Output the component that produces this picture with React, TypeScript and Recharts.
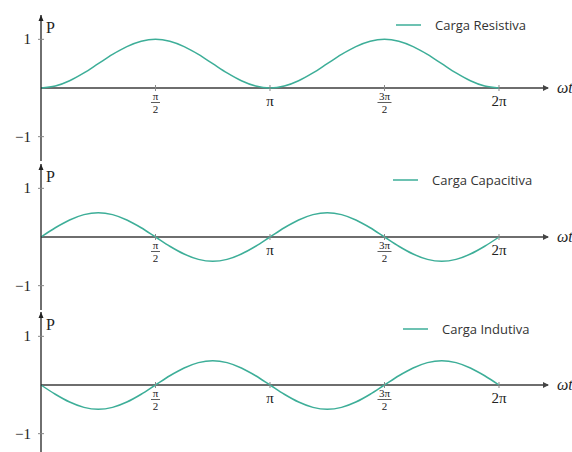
import React from 'react';
import { LineChart, Line, XAxis, YAxis, ReferenceLine, ReferenceDot, Legend } from 'recharts';

// angle in multiples of pi (step pi/16)
const angles = [
  0, 0.0625, 0.125, 0.1875, 0.25, 0.3125, 0.375, 0.4375, 0.5, 0.5625, 0.625, 0.6875, 0.75, 0.8125, 0.875, 0.9375,
  1, 1.0625, 1.125, 1.1875, 1.25, 1.3125, 1.375, 1.4375, 1.5, 1.5625, 1.625, 1.6875, 1.75, 1.8125, 1.875, 1.9375, 2,
];

const resistiva = [
  0, 0.04, 0.15, 0.31, 0.5, 0.69, 0.85, 0.96, 1, 0.96, 0.85, 0.69, 0.5, 0.31, 0.15, 0.04,
  0, 0.04, 0.15, 0.31, 0.5, 0.69, 0.85, 0.96, 1, 0.96, 0.85, 0.69, 0.5, 0.31, 0.15, 0.04, 0,
];

const capacitiva = [
  0, 0.19, 0.35, 0.46, 0.5, 0.46, 0.35, 0.19, 0, -0.19, -0.35, -0.46, -0.5, -0.46, -0.35, -0.19,
  0, 0.19, 0.35, 0.46, 0.5, 0.46, 0.35, 0.19, 0, -0.19, -0.35, -0.46, -0.5, -0.46, -0.35, -0.19, 0,
];

const indutiva = [
  0, -0.19, -0.35, -0.46, -0.5, -0.46, -0.35, -0.19, 0, 0.19, 0.35, 0.46, 0.5, 0.46, 0.35, 0.19,
  0, -0.19, -0.35, -0.46, -0.5, -0.46, -0.35, -0.19, 0, 0.19, 0.35, 0.46, 0.5, 0.46, 0.35, 0.19, 0,
];

const xTicks = [0.5, 1, 1.5, 2];
const xTickLabels = [['π', '2'], ['π'], ['3π', '2'], ['2π']];
const yTicks = [-1, 1];

const X_MAX = 2.214;
const LINE_COLOR = '#3dae98';
const AXIS_COLOR = '#6e6e6e';
const SERIF = '"Liberation Serif", "DejaVu Serif", serif';

const YTick = (props: any) => {
  const { x, y, payload } = props;
  return (
    <g>
      <line x1={x - 3} x2={x + 3} y1={y} y2={y} stroke="#888" strokeWidth={1} />
      <text x={x - 10} y={y + 5} textAnchor="end" fontFamily={SERIF} fontSize={15} fill="#222">
        {payload.value < 0 ? '\u2212' + Math.abs(payload.value) : payload.value}
      </text>
    </g>
  );
};

const XTickMark = (label: string[]) => (props: any) => {
  const { cx, cy } = props;
  const tick = <line x1={cx} x2={cx} y1={cy - 3} y2={cy + 3} stroke="#888" strokeWidth={1} />;
  if (label.length === 2) {
    const w = label[0].length > 1 ? 14 : 9;
    return (
      <g>
        {tick}
        <text x={cx} y={cy + 12} textAnchor="middle" fontFamily={SERIF} fontSize={11} fill="#222">{label[0]}</text>
        <line x1={cx - w / 2} x2={cx + w / 2} y1={cy + 14.5} y2={cy + 14.5} stroke="#333" strokeWidth={0.8} />
        <text x={cx} y={cy + 25} textAnchor="middle" fontFamily={SERIF} fontSize={11} fill="#222">{label[1]}</text>
      </g>
    );
  }
  return (
    <g>
      {tick}
      <text x={cx} y={cy + 18} textAnchor="middle" fontFamily={SERIF} fontSize={15} fill="#222">{label[0]}</text>
    </g>
  );
};

const YArrow = (props: any) => {
  const { cx, cy } = props;
  return (
    <g>
      <path d={`M${cx},${cy} L${cx - 2.5},${cy + 6} L${cx + 2.5},${cy + 6} Z`} fill="#222" />
      <text x={cx + 5} y={cy + 18} fontFamily={SERIF} fontSize={16} fill="#222">P</text>
    </g>
  );
};

const XArrow = (props: any) => {
  const { cx, cy } = props;
  return (
    <g>
      <path d={`M${cx + 1},${cy} L${cx - 5},${cy - 3} L${cx - 5},${cy + 3} Z`} fill="#444" />
      <text x={cx + 9} y={cy + 5} fontFamily={SERIF} fontStyle="italic" fontSize={16} fill="#222">ωt</text>
    </g>
  );
};

type PanelProps = {
  top: number;
  values: number[];
  name: string;
  legendLeft: number;
  legendTop: number;
};

const Panel = ({ top, values, name, legendLeft, legendTop }: PanelProps) => {
  const data = angles.map((a, i) => ({ a, p: values[i] }));
  return (
    <div style={{ position: 'absolute', left: 0, top }}>
      <LineChart width={572} height={165} data={data} margin={{ top: 15, right: 24, bottom: 4, left: 0 }}>
        <XAxis dataKey="a" type="number" domain={[0, X_MAX]} hide />
        <YAxis
          type="number"
          domain={[-1.5, 1.5]}
          ticks={yTicks}
          width={41}
          tickSize={0}
          tickMargin={0}
          tickLine={false}
          axisLine={{ stroke: '#222', strokeWidth: 1.3 }}
          tick={<YTick />}
        />
        <ReferenceLine y={0} stroke={AXIS_COLOR} strokeWidth={2} />
        {xTicks.map((t, i) => (
          <ReferenceDot key={t} x={t} y={0} r={0} ifOverflow="visible" shape={XTickMark(xTickLabels[i])} />
        ))}
        <ReferenceDot x={0} y={1.5} r={0} ifOverflow="visible" shape={YArrow} />
        <ReferenceDot x={X_MAX} y={0} r={0} ifOverflow="visible" shape={XArrow} />
        <Line
          type="monotone"
          dataKey="p"
          name={name}
          stroke={LINE_COLOR}
          strokeWidth={1.5}
          dot={false}
          isAnimationActive={false}
        />
        <Legend
          verticalAlign="middle"
          align="center"
          layout="horizontal"
          wrapperStyle={{ position: 'absolute', left: legendLeft, top: legendTop, width: 'auto' }}
          content={() => (
            <div style={{ display: 'flex', alignItems: 'center', height: 18 }}>
              <svg width={25} height={4} style={{ marginRight: 14 }}>
                <line x1={0} x2={25} y1={2} y2={2} stroke={LINE_COLOR} strokeWidth={1.5} />
              </svg>
              <span style={{ fontFamily: '"Open Sans", sans-serif', fontSize: 13, color: '#333' }}>{name}</span>
            </div>
          )}
        />
      </LineChart>
    </div>
  );
}

export default function App() {
  return (
    <div style={{ position: 'absolute', left: 0, top: 0, width: 572, height: 452, overflow: 'hidden', background: '#fff' }}>
      <Panel top={0} values={resistiva} name="Carga Resistiva" legendLeft={396} legendTop={16} />
      <Panel top={149} values={capacitiva} name="Carga Capacitiva" legendLeft={393} legendTop={22} />
      <Panel top={297} values={indutiva} name="Carga Indutiva" legendLeft={403} legendTop={23} />
    </div>
  );
}
